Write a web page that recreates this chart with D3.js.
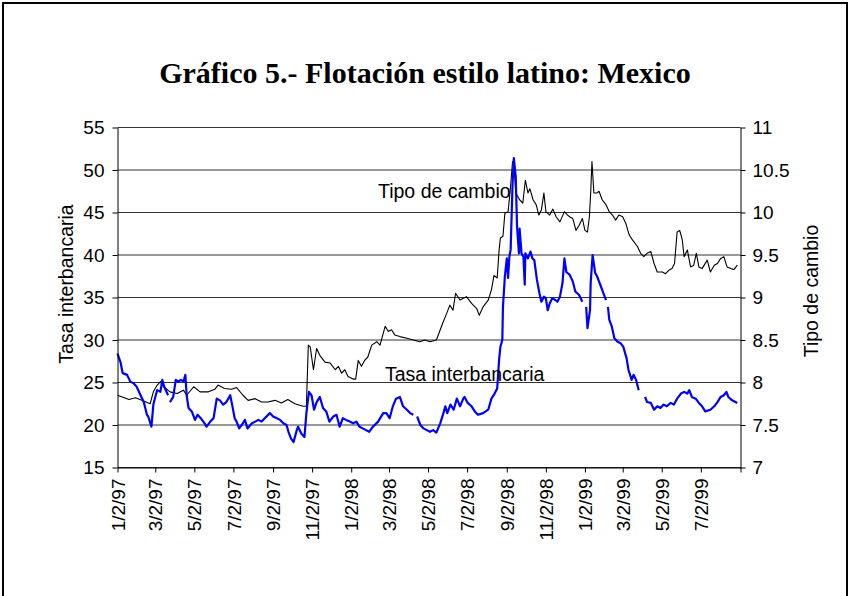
<!DOCTYPE html>
<html>
<head>
<meta charset="utf-8">
<script src="https://cdn.jsdelivr.net/npm/d3@7"></script>
<style>
  html, body { margin: 0; padding: 0; background: #fff; }
  svg { display: block; }
  text { font-family: "Liberation Sans", Arial, sans-serif; fill: #000; }
</style>
</head>
<body>
<svg id="chart" width="850" height="596"></svg>
<script>
// Tipo de cambio (pesos por dólar), eje derecho
const tcDates = [
  "1997-01-02","1997-01-20","1997-01-30","1997-02-09","1997-02-22","1997-02-27","1997-03-05","1997-03-10",
  "1997-03-15","1997-03-25","1997-04-05","1997-04-15","1997-04-20","1997-05-01","1997-05-11","1997-05-24",
  "1997-06-03","1997-06-08","1997-06-18","1997-06-29","1997-07-07","1997-07-17","1997-07-25","1997-08-05",
  "1997-08-15","1997-08-25","1997-09-05","1997-09-15","1997-09-25","1997-10-06","1997-10-19","1997-10-24",
  "1997-10-27","1997-10-30","1997-11-04","1997-11-09","1997-11-14","1997-11-22","1997-11-30","1997-12-08",
  "1997-12-13","1997-12-18","1997-12-23","1997-12-28","1998-01-05","1998-01-09","1998-01-13","1998-01-18",
  "1998-01-23","1998-01-28","1998-02-03","1998-02-11","1998-02-16","1998-02-24","1998-03-01","1998-03-06",
  "1998-03-11","1998-03-19","1998-03-30","1998-04-09","1998-04-19","1998-04-27","1998-05-05","1998-05-15",
  "1998-05-20","1998-05-25","1998-05-31","1998-06-05","1998-06-10","1998-06-14","1998-06-21","1998-06-26",
  "1998-07-01","1998-07-09","1998-07-17","1998-07-21","1998-07-27","1998-08-04","1998-08-09","1998-08-13",
  "1998-08-18","1998-08-21","1998-08-23","1998-08-27","1998-08-30","1998-09-04","1998-09-07","1998-09-11",
  "1998-09-13","1998-09-16","1998-09-22","1998-09-27","1998-10-01","1998-10-05","1998-10-08","1998-10-13",
  "1998-10-18","1998-10-22","1998-10-26","1998-10-30","1998-11-02","1998-11-08","1998-11-13","1998-11-18",
  "1998-11-24","1998-12-01","1998-12-06","1998-12-09","1998-12-14","1998-12-19","1998-12-24","1998-12-29",
  "1999-01-02","1999-01-06","1999-01-09","1999-01-11","1999-01-13","1999-01-16","1999-01-21","1999-01-24",
  "1999-01-29","1999-02-04","1999-02-09","1999-02-14","1999-02-19","1999-02-24","1999-03-02","1999-03-07",
  "1999-03-12","1999-03-17","1999-03-25","1999-03-30","1999-04-04","1999-04-09","1999-04-15","1999-04-20",
  "1999-04-25","1999-05-03","1999-05-08","1999-05-13","1999-05-18","1999-05-22","1999-05-26","1999-05-30",
  "1999-06-03","1999-06-06","1999-06-11","1999-06-16","1999-06-21","1999-06-25","1999-06-29","1999-07-04",
  "1999-07-12","1999-07-17","1999-07-23","1999-07-28","1999-08-02","1999-08-07","1999-08-12","1999-08-18",
  "1999-08-23","1999-08-28"
];
const tcValues = [
  7.85, 7.80, 7.82, 7.79, 7.75, 7.89, 7.97, 8.01,
  7.95, 7.89, 7.87, 7.91, 7.85, 7.95, 7.89, 7.89,
  7.92, 7.97, 7.93, 7.92, 7.94, 7.85, 7.79, 7.81,
  7.77, 7.77, 7.79, 7.76, 7.80, 7.75, 7.72, 7.72,
  8.44, 8.42, 8.15, 8.40, 8.32, 8.24, 8.23, 8.15,
  8.19, 8.11, 8.15, 8.07, 8.04, 8.04, 8.26, 8.19,
  8.26, 8.30, 8.44, 8.48, 8.44, 8.66, 8.60, 8.62,
  8.56, 8.54, 8.52, 8.50, 8.48, 8.50, 8.48, 8.50,
  8.60, 8.70, 8.81, 8.91, 8.85, 9.05, 8.97, 8.99,
  9.01, 8.93, 8.87, 8.79, 8.89, 8.97, 9.09, 9.26,
  9.23, 9.56, 9.70, 9.72, 9.99, 10.01, 10.23, 10.60,
  10.58, 10.23, 10.15, 10.11, 10.38, 10.23, 10.28, 10.15,
  10.09, 9.97, 10.03, 10.23, 10.01, 9.97, 10.04, 9.95,
  9.89, 10.01, 9.97, 9.95, 9.93, 9.79, 9.85, 9.93,
  9.79, 9.77, 9.95, 10.23, 10.60, 10.23, 10.23, 10.25,
  10.15, 10.09, 10.01, 9.97, 9.91, 9.97, 9.95, 9.87,
  9.74, 9.68, 9.60, 9.52, 9.48, 9.52, 9.54, 9.40,
  9.30, 9.30, 9.28, 9.32, 9.34, 9.40, 9.77, 9.79,
  9.68, 9.48, 9.56, 9.36, 9.38, 9.52, 9.36, 9.34,
  9.44, 9.30, 9.38, 9.40, 9.46, 9.48, 9.36, 9.34,
  9.33, 9.38
];

// Tasa interbancaria (%), eje izquierdo; null = día sin dato
const tiDates = [
  "1997-01-02","1997-01-07","1997-01-10","1997-01-17","1997-01-22","1997-01-27","1997-02-01","1997-02-07",
  "1997-02-12","1997-02-17","1997-02-19","1997-02-24","1997-02-27","1997-03-02","1997-03-05","1997-03-10",
  "1997-03-13","1997-03-16","1997-03-22","1997-03-23","1997-03-25","1997-03-30","1997-04-03","1997-04-07",
  "1997-04-11","1997-04-15","1997-04-18","1997-04-20","1997-04-23","1997-04-28","1997-05-03","1997-05-07",
  "1997-05-12","1997-05-18","1997-05-21","1997-05-27","1997-06-01","1997-06-06","1997-06-11","1997-06-16",
  "1997-06-21","1997-06-27","1997-06-30","1997-07-04","1997-07-07","1997-07-11","1997-07-15","1997-07-20",
  "1997-07-24","1997-07-31","1997-08-05","1997-08-10","1997-08-15","1997-08-20","1997-08-28","1997-09-02",
  "1997-09-08","1997-09-13","1997-09-18","1997-09-23","1997-09-26","1997-09-30","1997-10-04","1997-10-09",
  "1997-10-11","1997-10-16","1997-10-21","1997-10-24","1997-10-28","1997-11-01","1997-11-05","1997-11-09",
  "1997-11-14","1997-11-19","1997-11-24","1997-11-29","1997-12-05","1997-12-10","1997-12-15","1997-12-20",
  "1997-12-25","1997-12-31","1998-01-05","1998-01-10","1998-01-15","1998-01-20","1998-01-25","1998-01-30",
  "1998-02-05","1998-02-13","1998-02-21","1998-02-26","1998-03-03","1998-03-08","1998-03-13","1998-03-19",
  "1998-03-24","1998-03-30","1998-04-04","1998-04-09","1998-04-12","1998-04-15","1998-04-20","1998-04-25",
  "1998-04-30","1998-05-05","1998-05-10","1998-05-15","1998-05-21","1998-05-26","1998-05-29","1998-06-01",
  "1998-06-06","1998-06-11","1998-06-16","1998-06-21","1998-06-26","1998-06-28","1998-07-03","1998-07-09",
  "1998-07-14","1998-07-19","1998-07-27","1998-08-04","1998-08-09","1998-08-14","1998-08-18","1998-08-21",
  "1998-08-23","1998-08-26","1998-08-27","1998-08-30","1998-09-02","1998-09-04","1998-09-06","1998-09-08",
  "1998-09-11","1998-09-13","1998-09-16","1998-09-18","1998-09-21","1998-09-22","1998-09-25","1998-09-28",
  "1998-09-30","1998-10-01","1998-10-05","1998-10-09","1998-10-12","1998-10-15","1998-10-19","1998-10-23",
  "1998-10-26","1998-10-30","1998-11-02","1998-11-05","1998-11-08","1998-11-12","1998-11-17","1998-11-20",
  "1998-11-24","1998-11-28","1998-12-01","1998-12-04","1998-12-09","1998-12-14","1998-12-18","1998-12-24",
  "1998-12-29","1999-01-01","1999-01-04","1999-01-06","1999-01-10","1999-01-11","1999-01-14","1999-01-18",
  "1999-01-21","1999-01-24","1999-01-26","1999-01-30","1999-02-04","1999-02-05","1999-02-07","1999-02-09",
  "1999-02-13","1999-02-17","1999-02-22","1999-02-27","1999-03-03","1999-03-06","1999-03-08","1999-03-11",
  "1999-03-16","1999-03-19","1999-03-23","1999-03-27","1999-04-01","1999-04-06","1999-04-09","1999-04-15",
  "1999-04-20","1999-04-25","1999-04-30","1999-05-05","1999-05-10","1999-05-16","1999-05-21","1999-05-26",
  "1999-06-01","1999-06-06","1999-06-11","1999-06-14","1999-06-18","1999-06-24","1999-06-29","1999-07-04",
  "1999-07-09","1999-07-17","1999-07-23","1999-07-28","1999-08-02","1999-08-07","1999-08-11","1999-08-14",
  "1999-08-20","1999-08-28"
];
const tiValues = [
  28.4, 27.3, 26.1, 25.9, 25.1, 24.9, 24.5, 23.5,
  22.7, 21.2, 21.0, 19.8, 22.4, 23.3, 24.1, 23.9,
  25.3, 24.5, 23.5, null, 22.7, 23.3, 25.3, 25.1,
  25.3, 25.1, 25.9, 23.5, 22.0, 21.6, 20.6, 21.2,
  20.8, 20.2, 19.8, 20.4, 20.8, 23.1, 22.9, 22.4,
  22.7, 23.5, 22.4, 20.8, 20.4, 19.6, 20.0, 20.6,
  19.6, 20.2, 20.4, 20.6, 20.4, 20.8, 21.4, 21.0,
  20.8, 20.6, 20.2, 20.0, 19.2, 18.4, 18.0, 19.4,
  19.8, 19.0, 18.6, 21.4, 23.9, 23.5, 21.8, 22.7,
  23.3, 22.0, 21.6, 20.4, 21.0, 21.2, 19.8, 20.8,
  20.6, 20.4, 20.2, 20.4, 19.8, 19.6, 19.4, 19.2,
  19.8, 20.4, 21.4, 21.4, 20.8, 22.2, 23.1, 23.3,
  22.2, 21.8, 21.4, 21.2, null, 21.0, 20.0, 19.6,
  19.4, 19.2, 19.4, 19.1, 20.2, 21.4, 22.2, 21.4,
  22.4, 21.8, 23.1, 22.2, 23.1, 23.3, 22.6, 22.2,
  21.6, 21.2, 21.4, 21.8, 23.1, 23.7, 24.3, 27.7,
  29.2, 30.0, 33.9, 37.5, 39.6, 37.3, 39.8, 40.6,
  48.4, 51.4, 49.2, 43.3, 40.2, 43.1, 40.2, 39.8,
  36.5, 40.2, 39.6, 40.4, 39.6, 39.4, 37.1, 35.5,
  34.5, 35.1, 34.9, 33.5, 34.3, 34.9, 34.7, 34.5,
  35.1, 36.7, 39.6, 38.0, 37.7, 36.9, 35.7, 35.3,
  34.5, null, 33.9, 31.4, 33.5, 36.7, 40.0, 37.9,
  37.5, 36.9, 36.5, 35.7, 34.7, null, 33.9, 32.4,
  31.6, 30.2, 29.8, 29.6, 29.2, 28.4, 27.9, 26.5,
  25.3, 25.9, 25.3, 24.1, null, 23.3, 22.7, 22.6,
  21.8, 22.2, 22.0, 22.4, 22.2, 22.6, 22.4, 23.1,
  23.7, 23.9, 23.7, 24.1, 23.3, 23.1, 22.6, 22.2,
  21.6, 21.8, 22.2, 22.7, 23.3, 23.5, 23.9, 23.3,
  22.9, 22.6
];

// Eje horizontal: marcas cada dos meses
const tickDates = [
  "1997-01-02","1997-03-02","1997-05-02","1997-07-02","1997-09-02","1997-11-02",
  "1998-01-02","1998-03-02","1998-05-02","1998-07-02","1998-09-02","1998-11-02",
  "1999-01-02","1999-03-02","1999-05-02","1999-07-02","1999-09-02"
];
const tickLabels = [
  "1/2/97","3/2/97","5/2/97","7/2/97","9/2/97","11/2/97",
  "1/2/98","3/2/98","5/2/98","7/2/98","9/2/98","11/2/98",
  "1/2/99","3/2/99","5/2/99","7/2/99",""
];
const leftTicks = [15, 20, 25, 30, 35, 40, 45, 50, 55];
const rightTicks = [7, 7.5, 8, 8.5, 9, 9.5, 10, 10.5, 11];

const parse = d3.timeParse("%Y-%m-%d");
const svg = d3.select("#chart");

// marco exterior del gráfico
svg.append("rect")
  .attr("x", 3).attr("y", 3).attr("width", 844).attr("height", 620)
  .attr("fill", "none").attr("stroke", "#000").attr("stroke-width", 2);

const plot = { left: 117.5, right: 740.5, top: 127.5, bottom: 467.5 };

const x = d3.scaleTime()
  .domain([parse(tickDates[0]), parse(tickDates[tickDates.length - 1])])
  .range([plot.left, plot.right]);
const yL = d3.scaleLinear().domain([15, 55]).range([plot.bottom, plot.top]);
const yR = d3.scaleLinear().domain([7, 11]).range([plot.bottom, plot.top]);

// título
svg.append("text")
  .attr("x", 425).attr("y", 83)
  .attr("text-anchor", "middle")
  .style("font-family", "'Liberation Serif', 'Times New Roman', serif")
  .style("font-weight", "bold")
  .style("font-size", "30px")
  .text("Gráfico 5.- Flotación estilo latino: Mexico");

// líneas de cuadrícula horizontales
svg.append("g")
  .selectAll("line")
  .data(leftTicks)
  .join("line")
  .attr("x1", plot.left).attr("x2", plot.right)
  .attr("y1", d => yL(d)).attr("y2", d => yL(d))
  .attr("stroke", "#333").attr("stroke-width", 1);

// series
const tcData = tcDates.map((d, i) => ({ date: parse(d), value: tcValues[i] }));
const tiData = tiDates.map((d, i) => ({ date: parse(d), value: tiValues[i] }));

svg.append("path")
  .datum(tcData)
  .attr("fill", "none")
  .attr("stroke", "#000")
  .attr("stroke-width", 1.1)
  .attr("stroke-linejoin", "round")
  .attr("d", d3.line().x(d => x(d.date)).y(d => yR(d.value)));

svg.append("path")
  .datum(tiData)
  .attr("fill", "none")
  .attr("stroke", "#0000ff")
  .attr("stroke-width", 2.2)
  .attr("stroke-linejoin", "round")
  .attr("d", d3.line().defined(d => d.value !== null).x(d => x(d.date)).y(d => yL(d.value)));

// ejes
const tickFont = g => g.selectAll("text")
  .style("font-family", "'Liberation Sans', Arial, sans-serif")
  .style("font-size", "19px").attr("fill", "#000");

const axL = svg.append("g")
  .attr("transform", `translate(${plot.left},0)`)
  .call(d3.axisLeft(yL).tickValues(leftTicks).tickFormat(d => String(d))
    .tickSize(5).tickPadding(8).tickSizeOuter(0))
  .call(tickFont);
const axR = svg.append("g")
  .attr("transform", `translate(${plot.right},0)`)
  .call(d3.axisRight(yR).tickValues(rightTicks).tickFormat(d => String(d))
    .tickSize(5).tickPadding(7).tickSizeOuter(0))
  .call(tickFont);
const axB = svg.append("g")
  .attr("transform", `translate(0,${plot.bottom})`)
  .call(d3.axisBottom(x).tickValues(tickDates.map(parse))
    .tickFormat((d, i) => tickLabels[i]).tickSize(5).tickSizeOuter(0))
  .call(tickFont);
axB.selectAll("text")
  .attr("transform", "rotate(-90)")
  .attr("text-anchor", "end")
  .attr("x", -11).attr("y", 0).attr("dy", "0.35em");

[axL, axR, axB].forEach(g => {
  g.select(".domain").attr("stroke", "#000").attr("stroke-width", 1);
  g.selectAll(".tick line").attr("stroke", "#000");
});

// títulos de ejes
svg.append("text")
  .attr("transform", "translate(73,284) rotate(-90)")
  .attr("text-anchor", "middle")
  .style("font-size", "19.5px")
  .text("Tasa interbancaria");
svg.append("text")
  .attr("transform", "translate(818,291) rotate(-90)")
  .attr("text-anchor", "middle")
  .style("font-size", "19.5px")
  .text("Tipo de cambio");

// rótulos de las series
svg.append("text")
  .attr("x", 378).attr("y", 198)
  .style("font-size", "19.5px")
  .text("Tipo de cambio");
svg.append("text")
  .attr("x", 385).attr("y", 381)
  .style("font-size", "19.5px")
  .text("Tasa interbancaria");
</script>
</body>
</html>
